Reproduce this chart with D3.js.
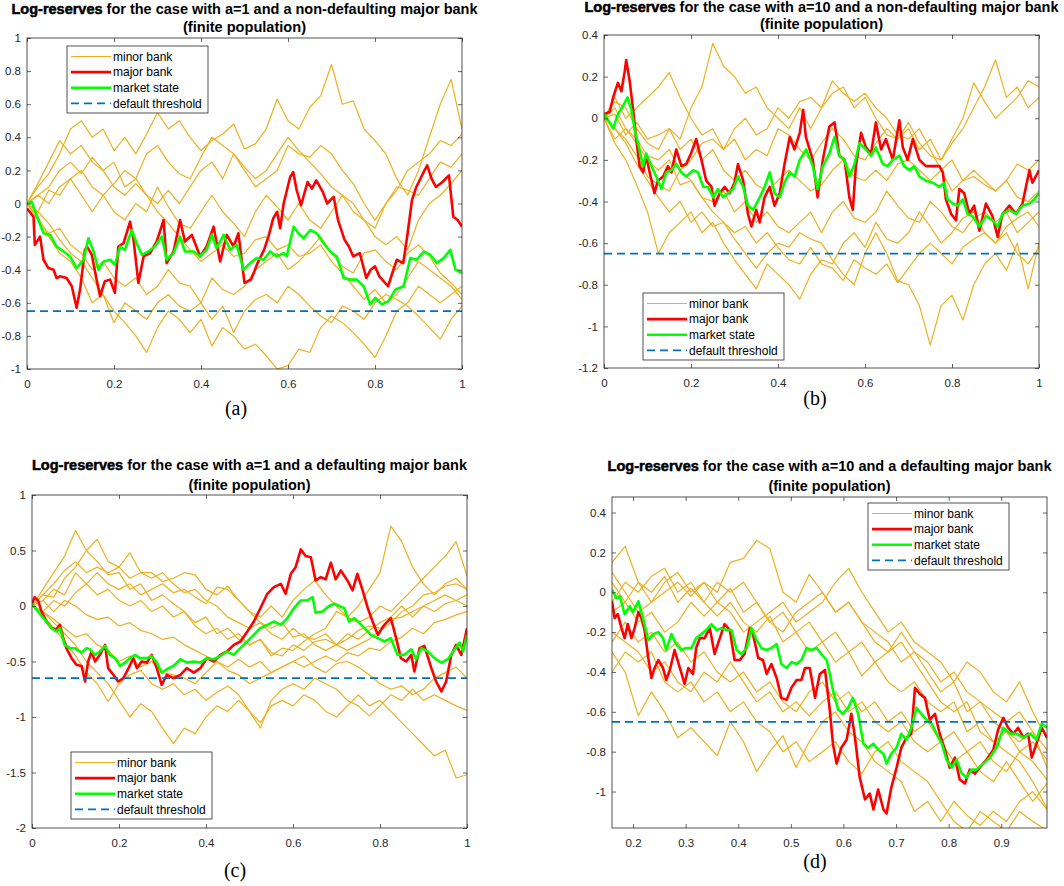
<!DOCTYPE html>
<html><head><meta charset="utf-8">
<script src="https://cdn.jsdelivr.net/npm/d3@7"></script>
<style>
body{margin:0;background:#fff}
svg{display:block}
text{font-family:"Liberation Sans",Arial,Helvetica,sans-serif}
</style>
</head><body>
<svg id="chart" width="1064" height="886"></svg>
<script>
// ---------------- DATA ----------------
const threshold = -0.65;
const legendLabels = ["minor bank","major bank","market state","default threshold"];
const subtitle = "(finite population)";
const titles = [
  ["Log-reserves"," for the case with a=1 and a non-defaulting major bank"],
  ["Log-reserves"," for the case with a=10 and a non-defaulting major bank"],
  ["Log-reserves"," for the case with a=1 and a defaulting major bank"],
  ["Log-reserves"," for the case with a=10 and a defaulting major bank"]
];
const panelLabels = ["(a)","(b)","(c)","(d)"];

const xTicksFull = [0,0.2,0.4,0.6,0.8,1];
const xTicksD = [0.2,0.3,0.4,0.5,0.6,0.7,0.8,0.9];
const yTicksA = [-1,-0.8,-0.6,-0.4,-0.2,0,0.2,0.4,0.6,0.8,1];
const yTicksB = [-1.2,-1,-0.8,-0.6,-0.4,-0.2,0,0.2,0.4];
const yTicksC = [-2,-1.5,-1,-0.5,0,0.5,1];
const yTicksD = [-1,-0.8,-0.6,-0.4,-0.2,0,0.2,0.4];

// time grid for minor banks (panels a,b,c)
const gridFull = [0,0.025,0.05,0.075,0.1,0.125,0.15,0.175,0.2,0.225,0.25,0.275,0.3,0.325,0.35,0.375,0.4,0.425,0.45,0.475,0.5,0.525,0.55,0.575,0.6,0.625,0.65,0.675,0.7,0.725,0.75,0.775,0.8,0.825,0.85,0.875,0.9,0.925,0.95,0.975,1];
// time grid for minor banks (panel d)
const gridD = [0.16,0.185,0.21,0.235,0.26,0.285,0.31,0.335,0.36,0.385,0.41,0.435,0.46,0.485,0.51,0.535,0.56,0.585,0.61,0.635,0.66,0.685,0.71,0.735,0.76,0.785,0.81,0.835,0.86,0.885,0.91,0.935,0.96,0.99];

// ----- panel (a)
const aMinor = [
 [0,0.1,0.18,0.3,0.45,0.5,0.4,0.45,0.32,0.4,0.3,0.42,0.55,0.45,0.5,0.4,0.32,0.38,0.42,0.48,0.33,0.36,0.45,0.63,0.5,0.45,0.58,0.65,0.84,0.6,0.62,0.45,0.38,0.3,0.15,0.05,0.2,0.4,0.6,0.75,0.45],
 [0,0.12,0.25,0.38,0.3,0.35,0.25,0.2,0.25,0.1,0.15,0.3,0.35,0.25,0.18,0.15,0.28,0.4,0.35,0.3,0.2,0.1,0.15,0.2,0.35,0.3,0.28,0.35,0.3,0.2,0.12,0,-0.1,0,0.08,0.2,0.25,0.3,0.38,0.35,0.42],
 [0,-0.05,0.08,0.05,0.15,0.2,0.1,0.05,-0.05,-0.1,0,-0.05,0.1,-0.02,-0.12,-0.15,-0.05,0.05,-0.05,-0.12,-0.2,-0.05,0.05,-0.02,-0.1,0,-0.1,-0.15,-0.05,0.05,-0.05,-0.1,-0.15,0,0.1,0.08,0.05,0.15,0.25,0.22,0.3],
 [0,-0.1,-0.18,-0.15,-0.25,-0.3,-0.4,-0.35,-0.45,-0.5,-0.45,-0.55,-0.5,-0.4,-0.48,-0.5,-0.6,-0.45,-0.52,-0.55,-0.5,-0.4,-0.35,-0.3,-0.4,-0.35,-0.28,-0.2,-0.3,-0.38,-0.42,-0.3,-0.28,-0.35,-0.4,-0.3,-0.25,-0.32,-0.42,-0.48,-0.55],
 [0,-0.08,-0.2,-0.3,-0.35,-0.45,-0.6,-0.55,-0.65,-0.72,-0.8,-0.9,-0.75,-0.65,-0.7,-0.78,-0.7,-0.86,-0.75,-0.8,-0.88,-0.85,-0.92,-1.0,-0.98,-0.88,-0.9,-0.75,-0.68,-0.72,-0.78,-0.85,-0.93,-0.8,-0.65,-0.6,-0.5,-0.55,-0.6,-0.55,-0.5],
 [0,-0.05,-0.12,-0.22,-0.3,-0.35,-0.45,-0.55,-0.72,-0.6,-0.65,-0.7,-0.6,-0.55,-0.62,-0.65,-0.6,-0.7,-0.62,-0.78,-0.65,-0.58,-0.55,-0.6,-0.5,-0.55,-0.62,-0.68,-0.72,-0.62,-0.65,-0.7,-0.6,-0.55,-0.58,-0.62,-0.68,-0.75,-0.82,-0.7,-0.62],
 [0,0.05,0,0.1,0.15,0.05,-0.05,0.05,0.12,0.2,0.15,0.05,-0.05,-0.12,-0.2,-0.28,-0.35,-0.3,-0.25,-0.32,-0.3,-0.22,-0.2,-0.28,-0.25,-0.32,-0.3,-0.25,-0.35,-0.42,-0.5,-0.58,-0.52,-0.6,-0.55,-0.45,-0.35,-0.4,-0.45,-0.5,-0.58],
 [0,0.05,0.1,0.2,0.25,0.18,0.28,0.2,0.1,0.05,0.12,0.05,0,0.08,0,0.1,0.2,0.25,0.15,0.3,0.22,0.15,0.2,0.3,0.4,0.32,0.25,0.18,0.1,0.05,0,-0.1,-0.2,-0.25,-0.2,-0.28,-0.1,0,0.05,0.12,0.2]
];
const aMajor = [[0,-0.03],[0.015,-0.08],[0.018,-0.25],[0.03,-0.2],[0.038,-0.34],[0.049,-0.39],[0.061,-0.40],[0.068,-0.45],[0.076,-0.44],[0.091,-0.45],[0.103,-0.5],[0.114,-0.63],[0.122,-0.52],[0.133,-0.28],[0.138,-0.26],[0.149,-0.31],[0.16,-0.46],[0.168,-0.56],[0.179,-0.47],[0.191,-0.46],[0.202,-0.54],[0.21,-0.26],[0.222,-0.24],[0.237,-0.11],[0.245,-0.22],[0.256,-0.48],[0.268,-0.32],[0.283,-0.30],[0.298,-0.23],[0.314,-0.10],[0.321,-0.36],[0.337,-0.29],[0.352,-0.10],[0.363,-0.23],[0.379,-0.19],[0.398,-0.32],[0.413,-0.26],[0.429,-0.14],[0.444,-0.35],[0.459,-0.19],[0.475,-0.26],[0.486,-0.18],[0.5,-0.48],[0.515,-0.46],[0.53,-0.36],[0.545,-0.28],[0.555,-0.2],[0.566,-0.09],[0.575,-0.05],[0.582,-0.15],[0.59,0],[0.605,0.16],[0.612,0.19],[0.62,0.08],[0.63,-0.01],[0.645,0.13],[0.655,0.09],[0.665,0.14],[0.68,0.07],[0.69,0],[0.705,0.04],[0.715,-0.10],[0.73,-0.22],[0.74,-0.26],[0.75,-0.32],[0.765,-0.30],[0.78,-0.45],[0.79,-0.40],[0.8,-0.38],[0.81,-0.44],[0.83,-0.50],[0.84,-0.42],[0.85,-0.34],[0.865,-0.36],[0.875,-0.18],[0.885,0.02],[0.895,0.10],[0.91,0.18],[0.92,0.23],[0.93,0.15],[0.94,0.10],[0.955,0.13],[0.97,0.17],[0.98,-0.08],[0.99,-0.10],[1,-0.14]];
const aMarket = [[0,0],[0.011,0.01],[0.015,-0.02],[0.026,-0.10],[0.038,-0.18],[0.053,-0.19],[0.068,-0.26],[0.084,-0.29],[0.099,-0.32],[0.114,-0.39],[0.13,-0.34],[0.141,-0.21],[0.153,-0.29],[0.164,-0.40],[0.176,-0.35],[0.191,-0.34],[0.202,-0.37],[0.214,-0.26],[0.225,-0.28],[0.241,-0.16],[0.252,-0.24],[0.264,-0.31],[0.279,-0.29],[0.294,-0.26],[0.31,-0.20],[0.321,-0.34],[0.337,-0.30],[0.352,-0.20],[0.363,-0.29],[0.383,-0.29],[0.398,-0.32],[0.413,-0.28],[0.425,-0.19],[0.436,-0.27],[0.452,-0.19],[0.467,-0.28],[0.482,-0.25],[0.498,-0.40],[0.513,-0.36],[0.528,-0.33],[0.544,-0.34],[0.559,-0.29],[0.574,-0.32],[0.59,-0.30],[0.597,-0.32],[0.613,-0.14],[0.624,-0.18],[0.636,-0.21],[0.651,-0.16],[0.666,-0.18],[0.682,-0.24],[0.697,-0.29],[0.712,-0.32],[0.728,-0.45],[0.743,-0.46],[0.758,-0.46],[0.774,-0.50],[0.789,-0.61],[0.801,-0.57],[0.816,-0.61],[0.831,-0.59],[0.847,-0.52],[0.866,-0.50],[0.881,-0.33],[0.896,-0.34],[0.912,-0.29],[0.927,-0.31],[0.942,-0.36],[0.958,-0.33],[0.973,-0.28],[0.985,-0.40],[1,-0.42]];

// ----- panel (b)
const bMinor = [
 [0,0.08,0.05,-0.05,-0.12,-0.15,-0.05,-0.1,0.05,0.15,0.36,0.25,0.2,0.12,0.15,0.05,0,-0.05,0.05,-0.05,0.05,0.12,0.15,0.05,0.1,0,-0.08,-0.1,-0.05,-0.15,-0.1,-0.2,-0.12,-0.05,0.05,0.15,0.28,0.1,0.15,0.05,0.1],
 [0,0.1,0,0.05,0.1,0.15,0.22,0.1,0,-0.08,-0.05,-0.15,-0.1,-0.2,-0.15,-0.18,-0.05,-0.08,-0.15,-0.2,-0.12,-0.05,-0.1,-0.18,-0.2,-0.12,-0.05,-0.1,-0.02,-0.12,-0.18,-0.2,-0.1,0,0.17,0.08,0,0.05,0.1,0.18,0.15],
 [0,-0.12,-0.2,-0.32,-0.45,-0.65,-0.55,-0.5,-0.45,-0.55,-0.5,-0.6,-0.68,-0.75,-0.82,-0.7,-0.75,-0.8,-0.87,-0.75,-0.68,-0.7,-0.6,-0.55,-0.62,-0.5,-0.58,-0.6,-0.55,-0.45,-0.52,-0.6,-0.55,-0.48,-0.45,-0.55,-0.6,-0.52,-0.48,-0.45,-0.52],
 [0,-0.05,-0.12,-0.22,-0.3,-0.38,-0.45,-0.4,-0.5,-0.45,-0.52,-0.5,-0.58,-0.65,-0.72,-0.65,-0.6,-0.62,-0.55,-0.58,-0.6,-0.68,-0.75,-0.8,-0.65,-0.55,-0.65,-0.78,-0.8,-0.9,-1.09,-0.9,-0.85,-0.97,-0.8,-0.7,-0.65,-0.73,-0.6,-0.82,-0.6],
 [0,-0.05,-0.1,-0.18,-0.28,-0.32,-0.35,-0.25,-0.3,-0.38,-0.4,-0.35,-0.45,-0.4,-0.5,-0.45,-0.52,-0.55,-0.5,-0.45,-0.55,-0.45,-0.4,-0.48,-0.5,-0.45,-0.35,-0.42,-0.48,-0.5,-0.4,-0.45,-0.52,-0.55,-0.48,-0.45,-0.5,-0.45,-0.55,-0.5,-0.45],
 [0,0.05,-0.05,-0.1,-0.18,-0.2,-0.15,-0.25,-0.2,-0.12,-0.1,-0.15,-0.05,0,-0.08,-0.05,0.05,0,0.08,0.1,0.05,0.18,0.12,0.08,0.12,0.05,0,-0.08,-0.1,-0.05,-0.15,-0.25,-0.2,-0.3,-0.25,-0.3,-0.35,-0.3,-0.38,-0.4,-0.35],
 [0,-0.1,-0.05,-0.12,-0.2,-0.25,-0.2,-0.32,-0.3,-0.38,-0.45,-0.5,-0.55,-0.52,-0.6,-0.55,-0.62,-0.68,-0.7,-0.62,-0.7,-0.72,-0.78,-0.68,-0.72,-0.75,-0.7,-0.79,-0.72,-0.65,-0.6,-0.65,-0.7,-0.62,-0.58,-0.55,-0.6,-0.55,-0.65,-0.7,-0.62],
 [0,0.02,-0.08,-0.02,-0.1,-0.08,-0.05,-0.15,-0.1,-0.2,-0.15,-0.25,-0.3,-0.25,-0.32,-0.35,-0.3,-0.25,-0.3,-0.35,-0.32,-0.25,-0.2,-0.28,-0.3,-0.25,-0.3,-0.22,-0.2,-0.25,-0.3,-0.25,-0.35,-0.3,-0.28,-0.32,-0.35,-0.3,-0.22,-0.25,-0.2]
];
const bMajor = [[0,0.02],[0.013,0.03],[0.021,0.10],[0.032,0.17],[0.04,0.13],[0.048,0.23],[0.051,0.28],[0.059,0.18],[0.067,0.04],[0.074,-0.10],[0.082,-0.23],[0.09,-0.26],[0.097,-0.18],[0.105,-0.26],[0.116,-0.36],[0.124,-0.30],[0.136,-0.28],[0.147,-0.23],[0.155,-0.26],[0.166,-0.15],[0.178,-0.23],[0.189,-0.22],[0.2,-0.17],[0.212,-0.10],[0.224,-0.20],[0.235,-0.30],[0.247,-0.33],[0.254,-0.42],[0.266,-0.36],[0.277,-0.33],[0.289,-0.36],[0.3,-0.31],[0.308,-0.22],[0.32,-0.30],[0.331,-0.46],[0.339,-0.52],[0.35,-0.44],[0.358,-0.50],[0.369,-0.38],[0.381,-0.33],[0.392,-0.42],[0.404,-0.36],[0.415,-0.22],[0.427,-0.09],[0.438,-0.15],[0.45,-0.07],[0.458,0.04],[0.464,-0.09],[0.48,-0.2],[0.491,-0.38],[0.503,-0.2],[0.518,-0.04],[0.53,-0.02],[0.541,-0.18],[0.553,-0.2],[0.564,-0.38],[0.572,-0.44],[0.579,-0.23],[0.591,-0.07],[0.602,-0.14],[0.614,-0.17],[0.625,-0.02],[0.637,-0.15],[0.648,-0.10],[0.664,-0.2],[0.679,-0.01],[0.687,-0.14],[0.698,-0.2],[0.71,-0.10],[0.725,-0.2],[0.74,-0.23],[0.756,-0.23],[0.771,-0.23],[0.779,-0.26],[0.786,-0.39],[0.798,-0.46],[0.809,-0.49],[0.817,-0.34],[0.828,-0.36],[0.84,-0.46],[0.851,-0.42],[0.863,-0.54],[0.878,-0.41],[0.893,-0.47],[0.905,-0.57],[0.916,-0.46],[0.932,-0.42],[0.947,-0.46],[0.962,-0.41],[0.978,-0.25],[0.985,-0.31],[1,-0.25]];
const bMarket = [[0,0.02],[0.013,-0.02],[0.021,-0.05],[0.032,0.02],[0.044,0.06],[0.054,0.10],[0.063,0.04],[0.071,-0.06],[0.078,-0.12],[0.09,-0.23],[0.097,-0.17],[0.109,-0.23],[0.12,-0.28],[0.132,-0.34],[0.143,-0.26],[0.155,-0.25],[0.166,-0.22],[0.178,-0.26],[0.189,-0.28],[0.205,-0.25],[0.216,-0.26],[0.228,-0.33],[0.239,-0.33],[0.251,-0.38],[0.262,-0.34],[0.274,-0.38],[0.285,-0.36],[0.297,-0.34],[0.308,-0.28],[0.32,-0.33],[0.331,-0.42],[0.343,-0.44],[0.358,-0.38],[0.369,-0.33],[0.381,-0.26],[0.392,-0.36],[0.404,-0.38],[0.415,-0.31],[0.427,-0.26],[0.438,-0.28],[0.45,-0.2],[0.465,-0.15],[0.48,-0.23],[0.491,-0.34],[0.503,-0.23],[0.518,-0.17],[0.53,-0.09],[0.541,-0.18],[0.553,-0.2],[0.564,-0.28],[0.576,-0.22],[0.587,-0.12],[0.602,-0.15],[0.614,-0.18],[0.625,-0.14],[0.641,-0.22],[0.652,-0.23],[0.664,-0.2],[0.679,-0.18],[0.69,-0.23],[0.702,-0.25],[0.713,-0.23],[0.725,-0.28],[0.74,-0.30],[0.756,-0.31],[0.771,-0.33],[0.782,-0.31],[0.79,-0.39],[0.802,-0.41],[0.813,-0.42],[0.825,-0.39],[0.836,-0.46],[0.847,-0.47],[0.863,-0.52],[0.878,-0.47],[0.893,-0.49],[0.905,-0.52],[0.916,-0.46],[0.932,-0.44],[0.947,-0.46],[0.962,-0.42],[0.978,-0.41],[0.989,-0.39],[1,-0.36]];

// ----- panel (c)
const cMinor = [
 [0,0.15,0.3,0.45,0.68,0.5,0.4,0.28,0.3,0.15,0.2,0.05,0.1,0.02,-0.05,-0.15,-0.1,-0.25,-0.2,-0.3,-0.35,-0.3,-0.45,-0.38,-0.4,-0.32,-0.25,-0.2,-0.05,-0.1,0,0.15,0.3,0.72,0.58,0.35,0.2,0.1,0.2,0.25,0.15],
 [0,0.1,0.08,0.25,0.35,0.5,0.6,0.4,0.35,0.48,0.3,0.3,0.22,0.25,0.3,0.28,0.15,0.1,0.18,0.05,-0.05,-0.15,-0.2,-0.15,-0.28,-0.25,-0.35,-0.4,-0.35,-0.25,-0.3,-0.22,-0.15,-0.1,0,-0.1,0,0.05,0.1,0.05,0.1],
 [0,0.05,0.15,0.1,0.3,0.2,0.3,0.2,0.15,0.2,0.1,0.15,0.2,0.12,0.15,0.08,0.02,0.17,0.15,0.05,-0.05,-0.1,0,-0.1,0.05,0.15,0.23,0.1,0,-0.1,-0.15,-0.1,0,-0.05,0.05,0.15,0.25,0.35,0.45,0.58,0.27],
 [0,-0.05,0.05,0,0.12,0.2,0.1,0.15,0.05,0,0.05,-0.05,0,-0.1,-0.05,-0.18,-0.25,-0.2,-0.3,-0.25,-0.35,-0.3,-0.42,-0.45,-0.35,-0.4,-0.32,-0.3,-0.35,-0.3,-0.22,-0.18,-0.2,-0.12,-0.1,-0.05,0,-0.05,0.02,0.05,0],
 [0,-0.05,-0.15,-0.25,-0.35,-0.5,-0.6,-0.7,-0.85,-1.0,-0.88,-0.95,-1.1,-1.24,-1.1,-1.15,-1.0,-0.9,-0.95,-0.85,-0.95,-1.05,-0.9,-0.85,-0.9,-0.8,-0.85,-0.95,-1.0,-0.9,-0.8,-0.9,-0.85,-0.95,-1.05,-1.15,-1.25,-1.35,-1.3,-1.55,-1.52],
 [0,-0.08,-0.2,-0.32,-0.45,-0.6,-0.7,-0.86,-0.7,-0.62,-0.58,-0.7,-0.75,-0.7,-0.8,-0.75,-0.85,-0.78,-0.72,-0.8,-0.95,-1.1,-0.85,-0.75,-0.7,-0.75,-0.65,-0.7,-0.75,-0.85,-0.9,-0.99,-0.9,-0.8,-0.85,-0.75,-0.85,-0.8,-0.85,-0.9,-0.94],
 [0,-0.05,-0.12,-0.2,-0.28,-0.25,-0.35,-0.4,-0.5,-0.45,-0.55,-0.5,-0.6,-0.62,-0.65,-0.7,-0.6,-0.5,-0.55,-0.48,-0.55,-0.5,-0.6,-0.55,-0.5,-0.45,-0.55,-0.6,-0.52,-0.5,-0.55,-0.62,-0.7,-0.75,-0.72,-0.8,-0.75,-0.65,-0.6,-0.55,-0.65],
 [0,0.1,0.2,0.32,0.4,0.3,0.35,0.3,0.35,0.25,0.3,0.25,0.3,0.2,0.12,0.15,0.05,0,-0.1,-0.15,-0.2,-0.15,-0.25,-0.3,-0.2,-0.28,-0.3,-0.25,-0.35,-0.4,-0.35,-0.3,-0.22,-0.15,-0.05,0,0.1,0.12,0.18,0.2,0.15],
 [0,0.05,-0.05,0.05,0,-0.08,-0.12,-0.1,-0.18,-0.15,-0.22,-0.25,-0.3,-0.28,-0.35,-0.4,-0.45,-0.5,-0.58,-0.62,-0.7,-0.65,-0.6,-0.55,-0.5,-0.55,-0.5,-0.45,-0.5,-0.42,-0.45,-0.38,-0.4,-0.32,-0.28,-0.2,-0.25,-0.15,-0.12,-0.08,-0.05]
];
const cMajor = [[0,0.02],[0.006,0.08],[0.014,0.05],[0.022,-0.05],[0.033,-0.14],[0.045,-0.2],[0.056,-0.21],[0.064,-0.17],[0.072,-0.29],[0.079,-0.38],[0.091,-0.47],[0.102,-0.53],[0.114,-0.54],[0.122,-0.68],[0.129,-0.5],[0.137,-0.41],[0.145,-0.5],[0.156,-0.44],[0.168,-0.35],[0.175,-0.56],[0.187,-0.62],[0.198,-0.68],[0.21,-0.65],[0.222,-0.56],[0.233,-0.47],[0.241,-0.56],[0.252,-0.5],[0.264,-0.51],[0.275,-0.44],[0.287,-0.56],[0.298,-0.71],[0.31,-0.62],[0.325,-0.65],[0.341,-0.62],[0.356,-0.56],[0.372,-0.6],[0.387,-0.56],[0.402,-0.47],[0.418,-0.5],[0.433,-0.44],[0.448,-0.41],[0.464,-0.35],[0.479,-0.32],[0.495,-0.23],[0.51,-0.14],[0.525,-0.02],[0.541,0.11],[0.556,0.17],[0.572,0.2],[0.583,0.11],[0.595,0.29],[0.606,0.35],[0.618,0.51],[0.629,0.45],[0.641,0.44],[0.652,0.23],[0.664,0.26],[0.675,0.24],[0.687,0.39],[0.698,0.24],[0.71,0.32],[0.725,0.23],[0.737,0.14],[0.748,0.29],[0.76,0.14],[0.772,-0.02],[0.783,-0.14],[0.795,-0.26],[0.81,-0.17],[0.825,-0.11],[0.837,-0.29],[0.848,-0.47],[0.86,-0.5],[0.872,-0.44],[0.879,-0.59],[0.891,-0.38],[0.902,-0.36],[0.918,-0.56],[0.929,-0.68],[0.941,-0.77],[0.952,-0.68],[0.964,-0.44],[0.975,-0.35],[0.987,-0.44],[1,-0.2]];
const cMarket = [[0,0.02],[0.01,-0.03],[0.022,-0.09],[0.033,-0.14],[0.045,-0.2],[0.056,-0.23],[0.064,-0.2],[0.075,-0.35],[0.087,-0.38],[0.098,-0.38],[0.114,-0.42],[0.125,-0.38],[0.133,-0.39],[0.145,-0.44],[0.156,-0.41],[0.168,-0.36],[0.179,-0.44],[0.191,-0.47],[0.202,-0.54],[0.214,-0.51],[0.225,-0.47],[0.237,-0.44],[0.248,-0.47],[0.264,-0.47],[0.275,-0.45],[0.287,-0.51],[0.298,-0.6],[0.31,-0.57],[0.325,-0.54],[0.341,-0.48],[0.356,-0.51],[0.372,-0.5],[0.387,-0.51],[0.402,-0.47],[0.418,-0.48],[0.433,-0.45],[0.448,-0.41],[0.464,-0.44],[0.479,-0.38],[0.495,-0.32],[0.51,-0.26],[0.525,-0.2],[0.541,-0.17],[0.556,-0.14],[0.572,-0.17],[0.587,-0.11],[0.602,-0.02],[0.618,0.05],[0.633,0.05],[0.645,0.08],[0.652,-0.06],[0.668,-0.05],[0.683,0],[0.695,0.02],[0.706,0],[0.718,-0.02],[0.729,-0.14],[0.741,-0.11],[0.752,-0.15],[0.764,-0.2],[0.779,-0.26],[0.795,-0.29],[0.81,-0.32],[0.825,-0.29],[0.84,-0.44],[0.856,-0.44],[0.872,-0.39],[0.883,-0.48],[0.895,-0.38],[0.91,-0.41],[0.925,-0.47],[0.941,-0.51],[0.956,-0.48],[0.972,-0.39],[0.983,-0.33],[0.991,-0.41],[1,-0.26]];

// ----- panel (d)
const dMinor = [
 [0.15,0.23,0.05,0,0.08,-0.05,0.02,-0.05,-0.12,-0.05,-0.15,-0.2,-0.12,-0.25,-0.2,-0.3,-0.25,-0.35,-0.3,-0.42,-0.35,-0.45,-0.5,-0.45,-0.55,-0.6,-0.55,-0.7,-0.65,-0.75,-0.8,-0.85,-0.95,-1.1],
 [-0.1,-0.05,0.05,-0.05,0,0.05,-0.02,0.05,0,0.15,0.17,0.26,0.22,0,-0.05,0.09,0,-0.1,-0.05,-0.15,-0.25,-0.3,-0.25,-0.35,-0.45,-0.55,-0.6,-0.55,-0.7,-0.75,-0.7,-0.8,-0.75,-0.85],
 [0.05,-0.05,-0.15,-0.1,-0.2,-0.15,-0.05,-0.12,-0.05,-0.1,-0.2,-0.15,-0.1,-0.05,-0.15,-0.1,-0.05,0.05,0.12,0,-0.1,-0.2,-0.15,-0.25,-0.3,-0.35,-0.45,-0.35,-0.4,-0.5,-0.55,-0.45,-0.6,-0.75],
 [-0.3,-0.4,-0.62,-0.5,-0.6,-0.73,-0.68,-0.75,-0.82,-0.65,-0.75,-0.9,-0.8,-0.72,-0.88,-0.75,-0.65,-0.6,-0.7,-0.75,-0.85,-0.9,-0.95,-1.1,-1.05,-1.15,-1.05,-1.12,-1.17,-1.1,-1.15,-1.05,-1.0,-1.1],
 [-0.2,-0.25,-0.3,-0.4,-0.35,-0.45,-0.5,-0.4,-0.45,-0.35,-0.45,-0.55,-0.5,-0.6,-0.55,-0.62,-0.55,-0.5,-0.6,-0.55,-0.65,-0.7,-0.65,-0.75,-0.8,-0.75,-0.85,-0.8,-0.9,-0.95,-0.85,-0.95,-1.05,-0.95],
 [-0.05,0.05,0,0.08,0.12,0,0.05,-0.05,0.05,0,0.05,-0.05,-0.15,-0.1,-0.2,-0.15,-0.25,-0.2,-0.3,-0.25,-0.35,-0.3,-0.2,-0.3,-0.35,-0.45,-0.4,-0.5,-0.55,-0.6,-0.65,-0.6,-0.7,-0.8],
 [-0.4,-0.3,-0.35,-0.3,-0.45,-0.5,-0.45,-0.55,-0.5,-0.6,-0.55,-0.65,-0.7,-0.8,-0.75,-0.85,-0.8,-0.75,-0.85,-0.91,-0.8,-0.75,-0.85,-0.9,-0.95,-1.05,-1.15,-1.2,-1.1,-1.15,-1.2,-1.1,-1.15,-1.2],
 [0.1,0,-0.1,-0.05,0.05,0.1,0,0.05,-0.05,0.02,-0.1,-0.05,-0.15,-0.2,-0.1,-0.05,0,-0.1,-0.05,-0.15,-0.2,-0.25,-0.35,-0.3,-0.4,-0.5,-0.45,-0.6,-0.55,-0.65,-0.7,-0.75,-0.7,-0.9],
 [-0.25,-0.15,-0.25,-0.2,-0.3,-0.25,-0.35,-0.3,-0.4,-0.45,-0.4,-0.5,-0.45,-0.55,-0.6,-0.5,-0.45,-0.55,-0.5,-0.6,-0.55,-0.65,-0.6,-0.7,-0.65,-0.75,-0.7,-0.8,-0.75,-0.85,-0.9,-0.8,-0.85,-0.95]
];
const dMajor = [[0.16,-0.045],[0.165,-0.13],[0.171,-0.11],[0.178,-0.18],[0.184,-0.23],[0.19,-0.16],[0.197,-0.23],[0.203,-0.18],[0.21,-0.10],[0.216,-0.13],[0.222,-0.19],[0.229,-0.33],[0.235,-0.43],[0.241,-0.38],[0.248,-0.34],[0.257,-0.38],[0.263,-0.44],[0.27,-0.39],[0.279,-0.29],[0.289,-0.38],[0.298,-0.46],[0.305,-0.38],[0.314,-0.41],[0.32,-0.28],[0.327,-0.23],[0.336,-0.23],[0.346,-0.18],[0.355,-0.31],[0.365,-0.23],[0.374,-0.16],[0.384,-0.19],[0.393,-0.34],[0.403,-0.34],[0.412,-0.31],[0.422,-0.18],[0.428,-0.21],[0.438,-0.33],[0.447,-0.34],[0.454,-0.41],[0.463,-0.36],[0.473,-0.43],[0.482,-0.53],[0.492,-0.54],[0.501,-0.48],[0.511,-0.44],[0.52,-0.44],[0.527,-0.38],[0.536,-0.38],[0.546,-0.53],[0.555,-0.41],[0.565,-0.39],[0.574,-0.59],[0.58,-0.76],[0.587,-0.86],[0.596,-0.78],[0.606,-0.74],[0.615,-0.61],[0.622,-0.73],[0.631,-0.93],[0.641,-1.04],[0.65,-1.01],[0.657,-1.09],[0.666,-0.99],[0.676,-1.09],[0.682,-1.11],[0.691,-0.98],[0.701,-0.88],[0.71,-0.78],[0.72,-0.73],[0.729,-0.71],[0.736,-0.48],[0.745,-0.51],[0.755,-0.53],[0.764,-0.64],[0.774,-0.61],[0.783,-0.71],[0.793,-0.79],[0.802,-0.88],[0.812,-0.83],[0.821,-0.94],[0.831,-0.96],[0.84,-0.89],[0.85,-0.91],[0.859,-0.88],[0.872,-0.84],[0.885,-0.79],[0.894,-0.69],[0.904,-0.63],[0.913,-0.68],[0.923,-0.71],[0.932,-0.68],[0.942,-0.73],[0.951,-0.71],[0.958,-0.83],[0.967,-0.76],[0.977,-0.68],[0.987,-0.73]];
const dMarket = [[0.16,0.013],[0.168,-0.03],[0.175,-0.02],[0.184,-0.11],[0.194,-0.07],[0.2,-0.10],[0.21,-0.045],[0.219,-0.13],[0.229,-0.24],[0.238,-0.21],[0.248,-0.20],[0.257,-0.23],[0.263,-0.29],[0.273,-0.21],[0.282,-0.26],[0.292,-0.29],[0.301,-0.28],[0.311,-0.28],[0.32,-0.23],[0.33,-0.21],[0.339,-0.19],[0.349,-0.16],[0.359,-0.19],[0.368,-0.18],[0.378,-0.19],[0.387,-0.19],[0.397,-0.29],[0.406,-0.31],[0.416,-0.28],[0.425,-0.18],[0.435,-0.24],[0.444,-0.28],[0.454,-0.29],[0.463,-0.28],[0.473,-0.26],[0.482,-0.36],[0.492,-0.38],[0.501,-0.35],[0.511,-0.36],[0.52,-0.34],[0.53,-0.28],[0.539,-0.29],[0.549,-0.28],[0.558,-0.31],[0.568,-0.34],[0.574,-0.41],[0.58,-0.49],[0.59,-0.59],[0.599,-0.61],[0.609,-0.58],[0.618,-0.53],[0.628,-0.61],[0.638,-0.76],[0.647,-0.78],[0.657,-0.76],[0.666,-0.79],[0.676,-0.81],[0.682,-0.86],[0.691,-0.81],[0.701,-0.78],[0.71,-0.71],[0.72,-0.74],[0.729,-0.68],[0.739,-0.58],[0.748,-0.61],[0.758,-0.64],[0.768,-0.66],[0.777,-0.71],[0.787,-0.76],[0.796,-0.84],[0.806,-0.88],[0.815,-0.84],[0.825,-0.91],[0.834,-0.93],[0.844,-0.89],[0.853,-0.89],[0.866,-0.86],[0.878,-0.83],[0.891,-0.78],[0.904,-0.68],[0.917,-0.71],[0.929,-0.71],[0.942,-0.73],[0.955,-0.71],[0.967,-0.74],[0.977,-0.66],[0.987,-0.68]];

// ---------------- LAYOUT / STYLE ----------------
const COL_MINOR = "#EDB120", COL_MAJOR = "#FF0000", COL_MARKET = "#00FF00", COL_THR = "#0072BD", COL_AX = "#262626";

const panels = [
  {box:[27,38,462,369], xd:[0,1], yd:[-1,1], xt:xTicksFull, yt:yTicksA, titleY:[14,32], titleW:[466,123], labelXY:[236,415], leg:[67,46],
   grid:gridFull, minors:aMinor, major:aMajor, market:aMarket},
  {box:[604,35,1039,368], xd:[0,1], yd:[-1.2,0.4], xt:xTicksFull, yt:yTicksB, titleY:[12,29], titleW:[474,123], labelXY:[815,405], leg:[643,293],
   grid:gridFull, minors:bMinor, major:bMajor, market:bMarket},
  {box:[32,495,467,828], xd:[0,1], yd:[-2,1], xt:xTicksFull, yt:yTicksC, titleY:[470,490], titleW:[435,122], labelXY:[235,877], leg:[71,752],
   grid:gridFull, minors:cMinor, major:cMajor, market:cMarket},
  {box:[612,497,1047,828], xd:[0.16,0.987], yd:[-1.183,0.478], xt:xTicksD, yt:yTicksD, titleY:[471,491], titleW:[444,122], labelXY:[815,868], leg:[868,503],
   grid:gridD, minors:dMinor, major:dMajor, market:dMarket}
];

const svg = d3.select("#chart");
const fmt = v => String(Math.round(v*100)/100);

panels.forEach((p, k) => {
  const [l,t,r,b] = p.box;
  const x = d3.scaleLinear().domain(p.xd).range([l,r]);
  const y = d3.scaleLinear().domain(p.yd).range([b,t]);
  const g = svg.append("g");
  const clipId = "clip"+k;
  svg.append("defs").append("clipPath").attr("id",clipId)
     .append("rect").attr("x",l).attr("y",t).attr("width",r-l).attr("height",b-t);

  const line = d3.line().x(d=>x(d[0])).y(d=>y(d[1]));
  const plot = g.append("g").attr("clip-path","url(#"+clipId+")");

  p.minors.forEach(vals => {
    const pts = vals.map((v,i)=>[p.grid[i], v]).filter(d=>d[0]!==undefined);
    plot.append("path").attr("d", line(pts)).attr("fill","none")
      .attr("stroke",COL_MINOR).attr("stroke-width",1.2).attr("stroke-linejoin","round");
  });
  plot.append("path").attr("d", line(p.major)).attr("fill","none")
      .attr("stroke",COL_MAJOR).attr("stroke-width",2.6).attr("stroke-linejoin","round");
  plot.append("path").attr("d", line(p.market)).attr("fill","none")
      .attr("stroke",COL_MARKET).attr("stroke-width",2.6).attr("stroke-linejoin","round");
  plot.append("path").attr("d", line([[p.xd[0],threshold],[p.xd[1],threshold]])).attr("fill","none")
      .attr("stroke",COL_THR).attr("stroke-width",1.8).attr("stroke-dasharray","8,5");

  const styleAxis = sel => {
    sel.select(".domain").remove();
    sel.selectAll(".tick line").attr("stroke",COL_AX).attr("stroke-width",0.7);
    sel.selectAll(".tick text").attr("fill",COL_AX).style("font-size","11.5px")
       .style("font-family",'"Liberation Sans",Arial,sans-serif');
  };
  g.append("g").attr("transform",`translate(0,${b})`)
    .call(d3.axisBottom(x).tickValues(p.xt).tickSizeInner(-4).tickSizeOuter(0).tickPadding(11).tickFormat(fmt))
    .call(styleAxis);
  g.append("g").attr("transform",`translate(0,${t})`)
    .call(d3.axisTop(x).tickValues(p.xt).tickSizeInner(-4).tickSizeOuter(0).tickFormat(""))
    .call(styleAxis);
  g.append("g").attr("transform",`translate(${l},0)`)
    .call(d3.axisLeft(y).tickValues(p.yt).tickSizeInner(-4).tickSizeOuter(0).tickPadding(6).tickFormat(fmt))
    .call(styleAxis);
  g.append("g").attr("transform",`translate(${r},0)`)
    .call(d3.axisRight(y).tickValues(p.yt).tickSizeInner(-4).tickSizeOuter(0).tickFormat(""))
    .call(styleAxis);
  g.append("rect").attr("x",l).attr("y",t).attr("width",r-l).attr("height",b-t)
    .attr("fill","none").attr("stroke",COL_AX).attr("stroke-width",0.8);

  // title
  const cx = (l+r)/2;
  const tt = g.append("text").attr("x",cx).attr("y",p.titleY[0]).attr("text-anchor","middle")
    .attr("textLength",p.titleW[0]).attr("lengthAdjust","spacingAndGlyphs")
    .style("font-size","14px").style("font-weight","bold").attr("fill","#000");
  tt.append("tspan").text(titles[k][0]).attr("stroke","#000").attr("stroke-width",0.5);
  tt.append("tspan").text(titles[k][1]);
  g.append("text").attr("x",cx).attr("y",p.titleY[1]).attr("text-anchor","middle")
    .attr("textLength",p.titleW[1]).attr("lengthAdjust","spacingAndGlyphs")
    .style("font-size","14px").style("font-weight","bold").attr("fill","#000").text(subtitle);

  // legend
  const [lx,ly] = p.leg;
  const lg = g.append("g");
  lg.append("rect").attr("x",lx).attr("y",ly).attr("width",141).attr("height",67)
    .attr("fill","#fff").attr("stroke",COL_AX).attr("stroke-width",0.8);
  const legStyles = [
    {c:COL_MINOR,w:1.2,d:null},{c:COL_MAJOR,w:2.6,d:null},{c:COL_MARKET,w:2.6,d:null},{c:COL_THR,w:1.8,d:"8,5"}
  ];
  legendLabels.forEach((lab,i) => {
    const yy = ly + 10.5 + i*15.6;
    lg.append("line").attr("x1",lx+4).attr("x2",lx+44).attr("y1",yy).attr("y2",yy)
      .attr("stroke",legStyles[i].c).attr("stroke-width",legStyles[i].w)
      .attr("stroke-dasharray",legStyles[i].d);
    lg.append("text").attr("x",lx+46).attr("y",yy+4.2).style("font-size","12px").attr("fill","#000").text(lab);
  });

  // panel label
  g.append("text").attr("x",p.labelXY[0]).attr("y",p.labelXY[1]).attr("text-anchor","middle")
    .style("font-family",'"Liberation Serif","Times New Roman",serif').style("font-size","20px").attr("fill","#000")
    .text(panelLabels[k]);
});
</script>
</body></html>
